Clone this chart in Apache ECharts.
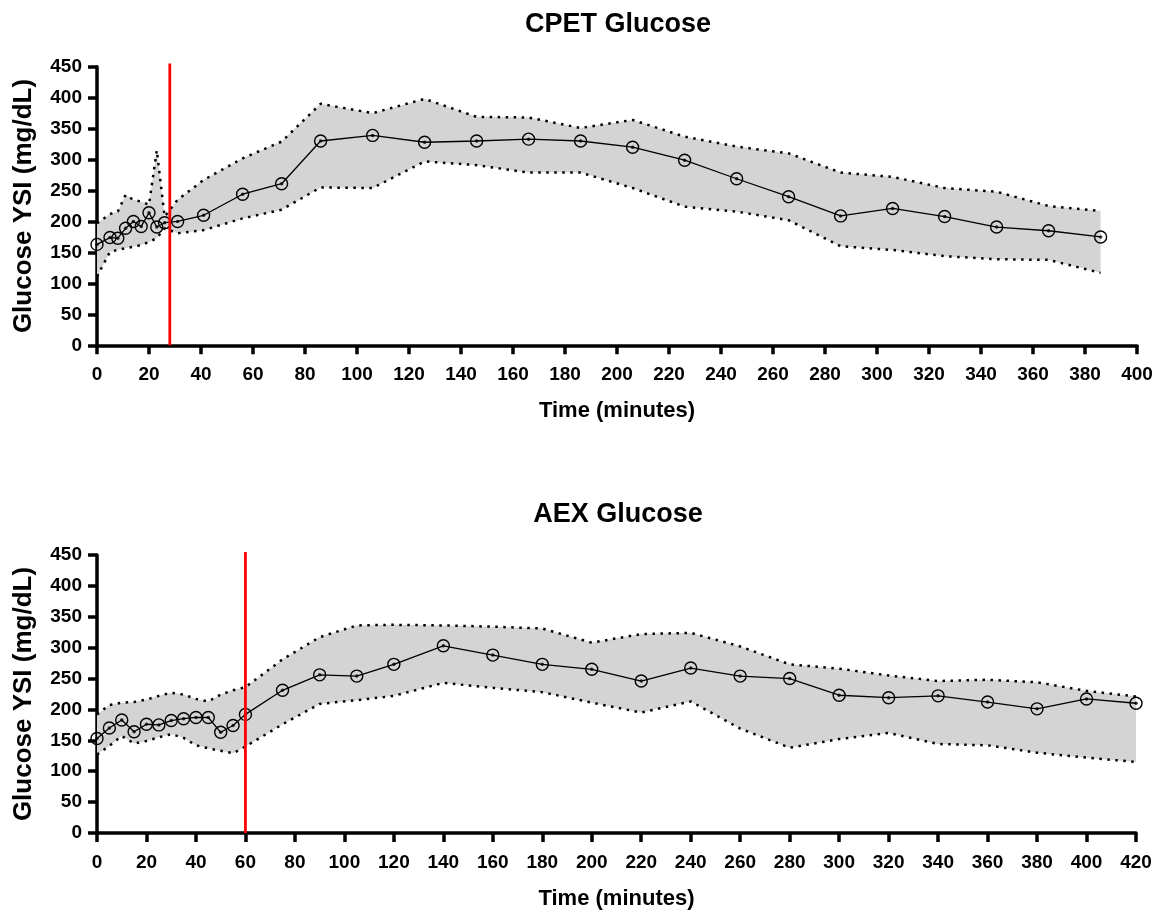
<!DOCTYPE html>
<html>
<head>
<meta charset="utf-8">
<script src="https://cdn.jsdelivr.net/npm/echarts@6/dist/echarts.min.js"></script>
<style>
html,body{margin:0;padding:0;background:#fff;}
#chart{width:1161px;height:911px;}
</style>
</head>
<body>
<div id="chart"></div>
<script>
// ---- CPET (top) ----
const cpetTime  = [0,5,8,11,14,17,20,23,26,31,41,56,71,86,106,126,146,166,186,206,226,246,266,286,306,326,346,366,386];
const cpetMean  = [163,174,173,189,200,192,214,191,198,200,210,244,261,330,339,328,330,333,330,320,299,269,240,209,221,208,191,185,175];
const cpetUpper = [197,212,216,243,235,232,227,315,208,235,267,302,329,390,375,398,369,368,351,364,337,321,310,279,272,254,248,225,217];
const cpetLower = [111,151,154,157,159,162,167,173,189,181,186,205,219,255,254,297,291,279,279,254,224,216,202,160,154,144,139,138,117];
const cpetMarkerTime = 28;

// ---- AEX (bottom) ----
const aexTime  = [0,5,10,15,20,25,30,35,40,45,50,55,60,75,90,105,120,140,160,180,200,220,240,260,280,300,320,340,360,380,400,420];
const aexMean  = [153,170,183,164,176,175,182,185,187,187,163,174,192,231,256,254,273,303,288,273,265,246,267,254,250,223,219,222,212,201,217,210];
const aexUpper = [192,207,211,212,216,222,227,224,217,213,224,231,236,281,317,336,337,336,334,331,308,322,324,302,273,266,255,246,248,244,230,221];
const aexLower = [127,141,157,145,149,155,160,154,142,137,133,129,140,176,209,215,222,243,235,228,211,195,213,169,138,152,162,144,142,130,122,115];
const aexMarkerTime = 60;

// axis ticks
const yMin = 0, yMax = 450, yStep = 50;
const cpetXMax = 400, aexXMax = 420, xStep = 20;
const markerTop = 455;

const titles = ['CPET Glucose', 'AEX Glucose'];
const yName = 'Glucose YSI (mg/dL)';
const xName = 'Time (minutes)';

const FONT = 'Liberation Sans, Arial, sans-serif';

function zip(a, b) { return a.map((v, i) => [v, b[i]]); }

function xAxisCfg(idx, max) {
  return {
    type: 'value', gridIndex: idx, min: 0, max: max, interval: xStep,
    name: xName, nameLocation: 'middle', nameGap: 55,
    nameTextStyle: {fontSize: 22, fontWeight: 'bold', color: '#000', fontFamily: FONT},
    axisLine: {show: true, onZero: false, lineStyle: {color: '#000', width: 3.5}},
    axisTick: {show: true, length: 9, lineStyle: {color: '#000', width: 3.5}},
    axisLabel: {fontSize: 19, fontWeight: 'bold', color: '#000', fontFamily: FONT, margin: 20},
    splitLine: {show: false}
  };
}
function yAxisCfg(idx) {
  return {
    type: 'value', gridIndex: idx, min: yMin, max: yMax, interval: yStep,
    name: yName, nameLocation: 'middle', nameRotate: 90, nameGap: 60,
    nameTextStyle: {fontSize: 26, fontWeight: 'bold', color: '#000', fontFamily: FONT},
    axisLine: {show: true, lineStyle: {color: '#000', width: 3.5}},
    axisTick: {show: true, length: 9, lineStyle: {color: '#000', width: 3.5}},
    axisLabel: {fontSize: 19, fontWeight: 'bold', color: '#000', fontFamily: FONT, margin: 15},
    splitLine: {show: false}
  };
}

function seriesFor(idx, time, mean, upper, lower, markerT) {
  const dotted = {color: '#000', width: 2.5, type: [2.5, 5.5], cap: 'butt'};
  return [
    { type: 'custom', xAxisIndex: idx, yAxisIndex: idx, data: zip(time, upper), z: 1, silent: true,
      renderItem: function (params, api) {
        if (params.dataIndex !== 0) return null;
        const pts = [];
        for (let i = 0; i < time.length; i++) pts.push(api.coord([time[i], upper[i]]));
        for (let i = time.length - 1; i >= 0; i--) pts.push(api.coord([time[i], lower[i]]));
        return {type: 'polygon', shape: {points: pts}, style: {fill: '#d4d4d4', stroke: null}};
      }
    },
    { type: 'line', xAxisIndex: idx, yAxisIndex: idx, data: zip(time, upper),
      symbol: 'none', lineStyle: dotted, z: 2 },
    { type: 'line', xAxisIndex: idx, yAxisIndex: idx, data: zip(time, lower),
      symbol: 'none', lineStyle: dotted, z: 2 },
    { type: 'line', xAxisIndex: idx, yAxisIndex: idx, data: zip(time, mean),
      symbol: 'circle', symbolSize: 12,
      itemStyle: {color: 'rgba(0,0,0,0)', borderColor: '#000', borderWidth: 1.4},
      lineStyle: {color: '#000', width: 1.3}, z: 3 },
    { type: 'scatter', xAxisIndex: idx, yAxisIndex: idx, data: zip(time, mean),
      symbol: 'circle', symbolSize: 3.5, itemStyle: {color: '#000'}, z: 4 },
    { type: 'line', xAxisIndex: idx, yAxisIndex: idx, data: [[markerT, yMin], [markerT, markerTop]],
      symbol: 'none', clip: false, lineStyle: {color: '#ff0000', width: 2.8}, z: 5 }
  ];
}

const chart = echarts.init(document.getElementById('chart'), null, {renderer: 'canvas'});
chart.setOption({
  animation: false,
  backgroundColor: '#fff',
  title: [
    {text: titles[0], left: 613, top: 6, textAlign: 'center',
     textStyle: {fontSize: 27, fontWeight: 'bold', color: '#000', fontFamily: FONT}},
    {text: titles[1], left: 613, top: 496, textAlign: 'center',
     textStyle: {fontSize: 27, fontWeight: 'bold', color: '#000', fontFamily: FONT}}
  ],
  grid: [
    {left: 97, top: 66.7, width: 1040, height: 278.6, containLabel: false},
    {left: 97, top: 555, width: 1039, height: 279, containLabel: false}
  ],
  xAxis: [xAxisCfg(0, cpetXMax), xAxisCfg(1, aexXMax)],
  yAxis: [yAxisCfg(0), yAxisCfg(1)],
  series: [
    ...seriesFor(0, cpetTime, cpetMean, cpetUpper, cpetLower, cpetMarkerTime),
    ...seriesFor(1, aexTime, aexMean, aexUpper, aexLower, aexMarkerTime)
  ]
});
</script>
</body>
</html>
